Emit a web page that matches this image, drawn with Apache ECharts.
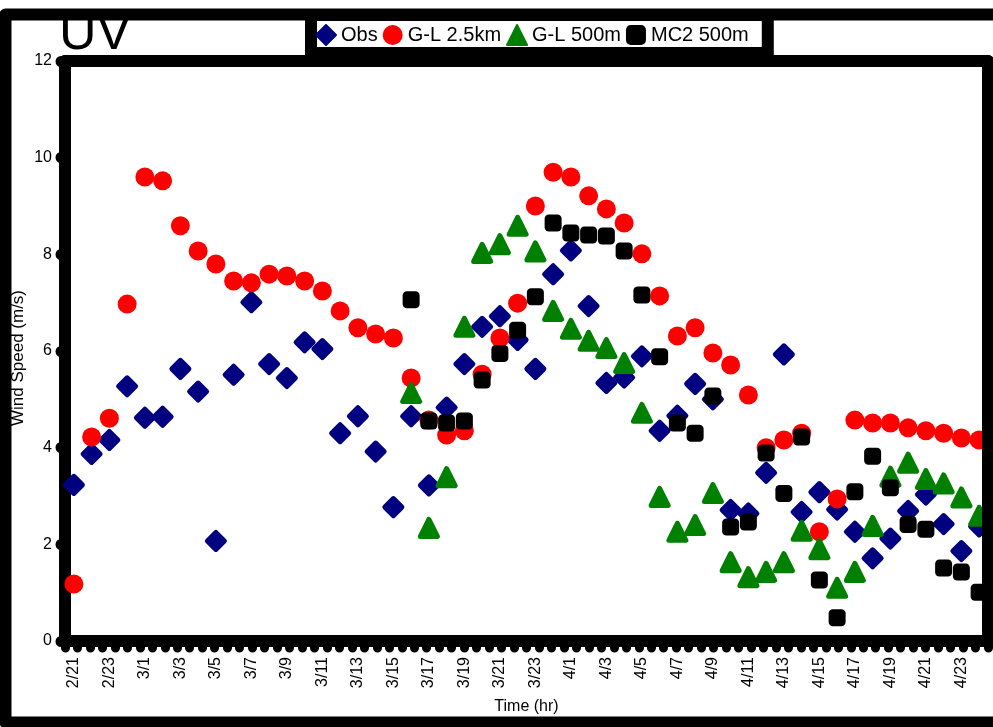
<!DOCTYPE html>
<html>
<head>
<meta charset="utf-8">
<script src="https://cdn.jsdelivr.net/npm/echarts@6/dist/echarts.min.js"></script>
<style>
html,body{margin:0;padding:0;background:#fff;}
#chart{width:993px;height:727px;}
</style>
</head>
<body>
<div id="chart"></div>
<script>
const categories = ['2/21','2/22','2/23','2/24',
  '3/1','3/2','3/3','3/4','3/5','3/6','3/7','3/8','3/9','3/10','3/11','3/12',
  '3/13','3/14','3/15','3/16','3/17','3/18','3/19','3/20','3/21','3/22','3/23','3/24',
  '4/1','4/2','4/3','4/4','4/5','4/6','4/7','4/8','4/9','4/10','4/11','4/12',
  '4/13','4/14','4/15','4/16','4/17','4/18','4/19','4/20','4/21','4/22','4/23','4/24'];

const seriesNames = ['Obs','G-L 2.5km','G-L 500m','MC2 500m'];

const obs = [3.23,3.87,4.16,5.27,4.62,4.64,5.63,5.16,2.07,5.51,7.01,5.73,5.44,6.18,6.04,4.30,
  4.65,3.92,2.77,4.65,3.22,4.83,5.73,6.50,6.72,6.23,5.63,7.59,8.08,6.93,5.34,5.45,
  5.89,4.35,4.66,5.32,5.00,2.71,2.64,3.48,5.93,2.67,3.08,2.72,2.26,1.71,2.12,2.69,
  3.03,2.42,1.86,2.37];

const gl25 = [1.18,4.22,4.61,6.97,9.60,9.52,8.59,8.07,7.80,7.45,7.41,7.59,7.55,7.45,7.24,6.83,
  6.48,6.35,6.27,5.44,4.57,4.26,4.35,5.52,6.27,6.99,9.00,9.70,9.60,9.21,8.94,8.65,
  8.01,7.14,6.31,6.48,5.96,5.71,5.09,4.00,4.16,4.30,2.26,2.94,4.57,4.51,4.51,4.41,
  4.35,4.30,4.20,4.16];

const gl500 = [null,null,null,null,null,null,null,null,null,null,null,null,null,null,null,null,
  null,null,null,5.13,2.34,3.39,6.50,8.03,8.21,8.59,8.06,6.83,6.46,6.21,6.06,5.75,
  4.72,2.98,2.26,2.40,3.06,1.63,1.32,1.43,1.63,2.28,1.90,1.10,1.43,2.38,3.40,3.69,
  3.35,3.26,2.97,2.59];

const mc2 = [null,null,null,null,null,null,null,null,null,null,null,null,null,null,null,null,
  null,null,null,7.06,4.55,4.51,4.55,5.40,5.95,6.43,7.12,8.65,8.44,8.40,8.38,8.07,
  7.16,5.88,4.51,4.30,5.07,2.36,2.46,3.89,3.05,4.22,1.26,0.48,3.09,3.82,3.17,2.41,
  2.31,1.51,1.43,1.01];

const FONT = 'Liberation Sans';
const chart = echarts.init(document.getElementById('chart'), null, {renderer:'canvas'});

const option = {
  animation: false,
  backgroundColor: '#ffffff',
  textStyle: {fontFamily: FONT},
  title: {
    text: 'UV', left: 54, top: 4,
    textStyle: {fontSize: 52, fontWeight: 'normal', color: '#000', fontFamily: FONT}
  },
  legend: {
    data: seriesNames,
    left: 311, top: 15,
    padding: [9, 19, 7, 4],
    itemWidth: 20, itemHeight: 20, itemGap: 5,
    backgroundColor: '#ffffff', borderColor: '#000', borderWidth: 12,
    textStyle: {fontSize: 20, color: '#000', fontFamily: FONT},
    z: 50
  },
  grid: {left: 65, right: 5, top: 61, bottom: 86, containLabel: false, outerBoundsMode: 'none'},
  xAxis: [
    {
      type: 'category', data: categories, boundaryGap: true, position: 'bottom',
      axisLine: {lineStyle: {color: '#000', width: 12}},
      axisTick: {show: false},
      axisLabel: {interval: 1, rotate: 90, margin: 16, fontSize: 16, color: '#000', fontFamily: FONT},
      splitLine: {show: false},
      name: 'Time (hr)', nameLocation: 'middle', nameGap: 58, nameMoveOverlap: false,
      nameTextStyle: {fontSize: 16, color: '#000', fontFamily: FONT}
    },
    {
      type: 'value', min: 0, max: 74, interval: 1, position: 'bottom',
      axisLine: {show: false},
      axisTick: {show: true, length: 7, lineStyle: {color: '#000', width: 9, cap: 'round'}},
      axisLabel: {show: false}, splitLine: {show: false}
    },
    {
      type: 'category', data: categories, position: 'top',
      axisLine: {lineStyle: {color: '#000', width: 12}},
      axisTick: {show: false}, axisLabel: {show: false}, splitLine: {show: false}
    }
  ],
  yAxis: [
    {
      type: 'value', min: 0, max: 12, interval: 2,
      axisLine: {show: true, lineStyle: {color: '#000', width: 12}},
      axisTick: {show: true, length: 4, lineStyle: {color: '#000', width: 11, cap: 'round'}},
      axisLabel: {fontSize: 16, color: '#000', margin: 13, fontFamily: FONT},
      splitLine: {show: false},
      name: 'Wind Speed (m/s)', nameLocation: 'middle', nameGap: 38, nameMoveOverlap: false,
      nameTextStyle: {fontSize: 17, color: '#000', fontFamily: FONT, padding: [0, 14, 0, 0]}
    },
    {
      type: 'value', min: 0, max: 12, interval: 2, position: 'right', z: 10,
      axisLine: {show: true, lineStyle: {color: '#000', width: 12}},
      axisTick: {show: false}, axisLabel: {show: false}, splitLine: {show: false}
    }
  ],
  graphic: [{
    type: 'rect', z: 100, silent: true,
    shape: {x: 5.5, y: 14.5, width: 1100, height: 708},
    style: {fill: null, stroke: '#000', lineWidth: 12, lineJoin: 'round'}
  }],
  series: [
    {
      name: seriesNames[0], type: 'scatter', data: obs, symbol: 'diamond', symbolSize: 17,
      itemStyle: {color: '#000080', borderColor: '#000080', borderWidth: 5, borderJoin: 'round', opacity: 1},
      emphasis: {disabled: true}
    },
    {
      name: seriesNames[1], type: 'scatter', data: gl25, symbol: 'circle', symbolSize: 19,
      itemStyle: {color: '#ff0000', opacity: 1},
      emphasis: {disabled: true}
    },
    {
      name: seriesNames[2], type: 'scatter', data: gl500, symbol: 'triangle', symbolSize: 17,
      itemStyle: {color: '#008000', borderColor: '#008000', borderWidth: 5, borderJoin: 'round', opacity: 1},
      emphasis: {disabled: true}
    },
    {
      name: seriesNames[3], type: 'scatter', data: mc2, symbol: 'roundRect', symbolSize: 17,
      itemStyle: {color: '#000000', opacity: 1},
      emphasis: {disabled: true}
    }
  ]
};
chart.setOption(option);
</script>
</body>
</html>
